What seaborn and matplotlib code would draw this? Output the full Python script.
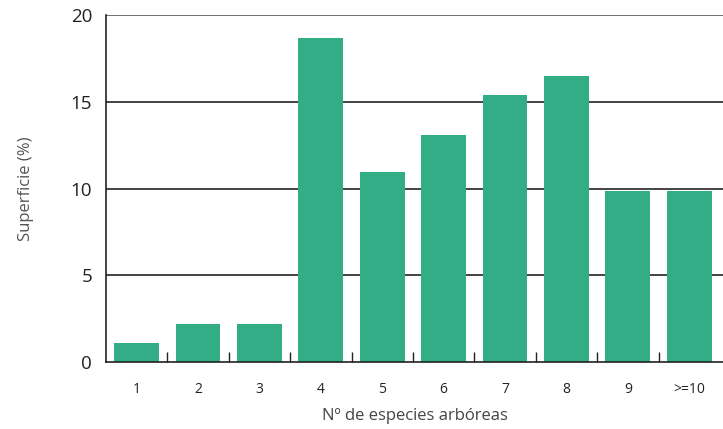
import matplotlib.pyplot as plt
import pandas as pd
import seaborn as sns
from matplotlib.ticker import FixedLocator

categorias = ["1", "2", "3", "4", "5", "6", "7", "8", "9", ">=10"]
superficie = [1.1, 2.2, 2.2, 18.7, 10.95, 13.1, 15.4, 16.5, 9.85, 9.85]

df = pd.DataFrame({"especies": categorias, "superficie": superficie})

sns.set_style("white")
plt.rcParams["font.family"] = ["Open Sans", "DejaVu Sans"]

fig = plt.figure(figsize=(7.23, 4.29), dpi=100)
ax = fig.add_axes([0.1466, 0.156, 0.8534, 0.809])

for y in [5, 10, 15]:
    ax.axhline(y, color="#111111", lw=1.1, zorder=0)
ax.axhline(20, color="#666666", lw=1.3, zorder=0)

sns.barplot(data=df, x="especies", y="superficie", color="#33AD85", width=0.73,
            saturation=1, linewidth=0, edgecolor="none", ax=ax, zorder=2)

ax.set_ylim(0, 20)
ax.set_xlim(-0.5, 9.55)
ax.set_yticks([0, 5, 10, 15, 20])
ax.tick_params(axis="y", length=0, labelsize=13.5, pad=10, labelcolor="#222222")
ax.tick_params(axis="x", length=0, labelsize=10, pad=14, labelcolor="#222222")
ax.xaxis.set_minor_locator(FixedLocator([i + 0.5 for i in range(9)]))
ax.tick_params(axis="x", which="minor", bottom=True, direction="in", length=7,
               width=1, color="#222222")

for s in ["top", "right"]:
    ax.spines[s].set_visible(False)
for s in ["left", "bottom"]:
    ax.spines[s].set_color("#222222")
    ax.spines[s].set_linewidth(1.2)

ax.set_xlabel("Nº de especies arbóreas", fontsize=12, color="#444444", labelpad=8)
ax.set_ylabel("Superficie (%)", fontsize=12, color="#555555", labelpad=26)

plt.savefig("out.png", dpi=100)
